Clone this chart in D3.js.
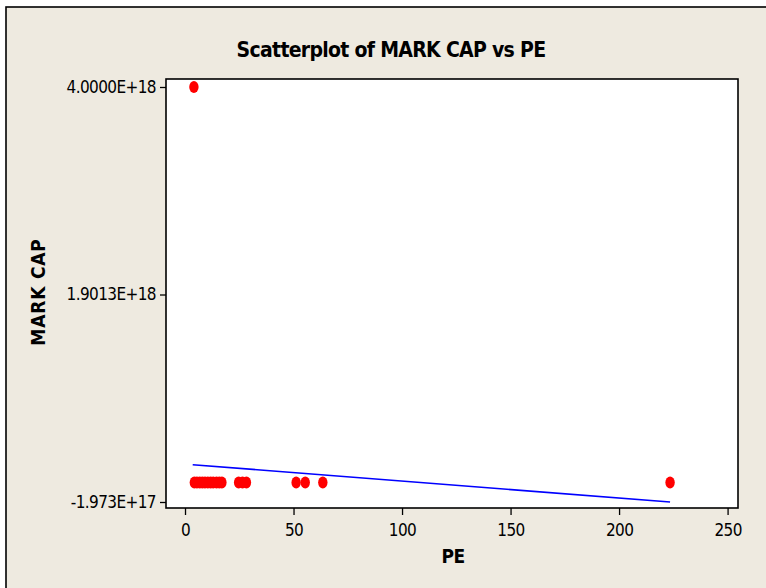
<!DOCTYPE html>
<html>
<head>
<meta charset="utf-8">
<script src="https://cdn.jsdelivr.net/npm/d3@7"></script>
<style>
  html, body { margin: 0; padding: 0; background: #ffffff; }
  svg { display: block; }
  .lbl { font-family: "DejaVu Sans Condensed", "DejaVu Sans", sans-serif; font-stretch: condensed; }
</style>
</head>
<body>
<svg id="chart" width="766" height="588"></svg>
<script>
// ---- data ----
const peValues   = [4.1, 4.3, 5.5, 6.8, 8.0, 9.2, 10.5, 11.8, 13.0, 14.5, 15.8, 17.0, 24.7, 26.5, 28.3, 51.2, 55.4, 63.5, 223.5];
const markCap    = [4.0e18, 3.1e10, 1.2e10, 8.5e9, 2.4e10, 5.6e9, 1.9e10, 7.3e9, 4.2e10, 1.1e10, 6.8e9, 2.7e10, 9.4e9, 1.5e10, 3.8e9, 2.2e10, 8.1e9, 1.3e10, 6.1e9];
const fitPE      = [3.55, 223.5];            // fitted line x extent
const fitMarkCap = [1.80e17, -1.973e17];     // fitted line values at the extent
const xTicks     = [0, 50, 100, 150, 200, 250];
const yTicks     = [4.0e18, 1.9013e18, -1.973e17];
const yTickLabels = ["4.0000E+18", "1.9013E+18", "-1.973E+17"];
const titleText  = "Scatterplot of MARK CAP vs PE";
const xTitle     = "PE";
const yTitle     = "MARK CAP";

// ---- layout ----
const svg = d3.select("#chart");
const plot = { left: 166, right: 738, top: 79, bottom: 508 };

// frame background
svg.append("rect").attr("x", 6).attr("y", 7).attr("width", 780).attr("height", 600)
  .attr("fill", "#EEEAE0").attr("stroke", "#000").attr("stroke-width", 1.6);

const x = d3.scaleLinear().domain([-8.76, 254.8]).range([plot.left, plot.right]);
const y = d3.scaleLinear().domain([-2.58e17, 4.0809e18]).range([plot.bottom, plot.top]);

// plot area
svg.append("rect")
  .attr("x", plot.left).attr("y", plot.top)
  .attr("width", plot.right - plot.left).attr("height", plot.bottom - plot.top)
  .attr("fill", "#ffffff").attr("stroke", "#000").attr("stroke-width", 1.6);

// axes
const xAxis = svg.append("g").attr("transform", `translate(0,${plot.bottom})`)
  .call(d3.axisBottom(x).tickValues(xTicks).tickSize(7).tickPadding(9).tickFormat(d3.format("d")));
const yAxis = svg.append("g").attr("transform", `translate(${plot.left},0)`)
  .call(d3.axisLeft(y).tickValues(yTicks).tickSize(6).tickPadding(4)
    .tickFormat((d, i) => yTickLabels[i]));
[xAxis, yAxis].forEach(g => {
  g.select(".domain").remove();
  g.selectAll(".tick line").attr("stroke", "#000").attr("stroke-width", 1.3);
  g.selectAll(".tick text").attr("class", "lbl").attr("font-size", 17)
    .attr("letter-spacing", -0.6).attr("fill", "#000");
});

// fitted line
svg.append("line")
  .attr("x1", x(fitPE[0])).attr("y1", y(fitMarkCap[0]))
  .attr("x2", x(fitPE[1])).attr("y2", y(fitMarkCap[1]))
  .attr("stroke", "#0000FF").attr("stroke-width", 1.6);

// points
svg.append("g").selectAll("ellipse")
  .data(peValues.map((p, i) => ({ p, m: markCap[i] })))
  .join("ellipse")
  .attr("cx", d => x(d.p)).attr("cy", d => y(d.m))
  .attr("rx", 4.7).attr("ry", 6)
  .attr("fill", "#FF0000");

// titles
svg.append("text").attr("class", "lbl")
  .attr("x", 391).attr("y", 57).attr("text-anchor", "middle")
  .attr("font-size", 21).attr("font-weight", "bold").attr("letter-spacing", -0.7)
  .attr("fill", "#000").text(titleText);

svg.append("text").attr("class", "lbl")
  .attr("x", 453).attr("y", 563).attr("text-anchor", "middle")
  .attr("font-size", 19).attr("font-weight", "bold").attr("letter-spacing", -0.5)
  .attr("fill", "#000").text(xTitle);

svg.append("text").attr("class", "lbl")
  .attr("transform", "translate(45,292) rotate(-90)").attr("text-anchor", "middle")
  .attr("font-size", 19).attr("font-weight", "bold").attr("letter-spacing", 0.8)
  .attr("fill", "#000").text(yTitle);
</script>
</body>
</html>
